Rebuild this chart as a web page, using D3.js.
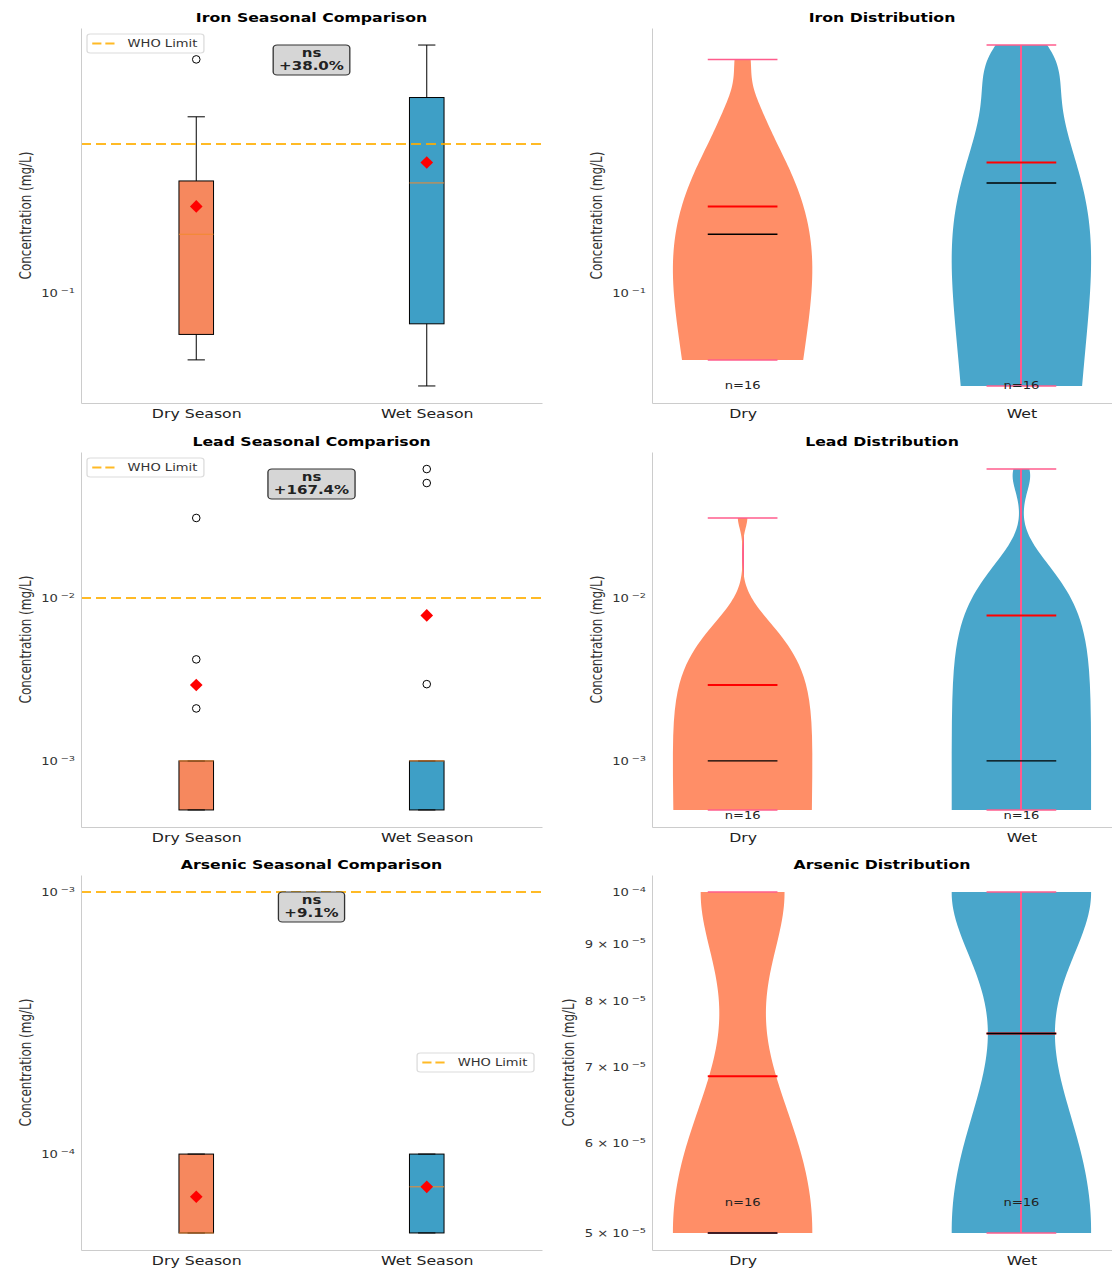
<!DOCTYPE html>
<html>
<head>
<meta charset="utf-8">
<script src="https://cdn.jsdelivr.net/npm/d3@7"></script>
<style>
  html, body { margin: 0; padding: 0; background: #fff; }
  svg { display: block; font-family: "DejaVu Sans", sans-serif; }
</style>
</head>
<body>
<svg id="chart" width="1112" height="1269"></svg>
<script>
// ---- data -------------------------------------------------------------
const metals = ["Iron", "Lead", "Arsenic"];
const seasons = ["Dry", "Wet"];
const boxTickLabels = ["Dry Season", "Wet Season"];
const whoLimits = [0.3, 0.01, 0.001];          // mg/L, drawn as dashed reference lines
const significance = ["ns", "ns", "ns"];
const legendLoc = ["upper left", "upper left", "center right"];

// measured concentrations (mg/L), 16 sampling sites per season
const ironDry = [0.0614, 0.064, 0.068, 0.072, 0.0747, 0.09, 0.115, 0.14,
                 0.169, 0.215, 0.22, 0.222, 0.248, 0.35, 0.366, 0.558];
const ironWet = [0.0507, 0.06, 0.07, 0.078, 0.0807, 0.10, 0.15, 0.21,
                 0.2404, 0.26, 0.319, 0.40, 0.4868, 0.50, 0.56, 0.62];
const leadDry = [0.0005, 0.0005, 0.0005, 0.0005, 0.0005, 0.0005, 0.0005, 0.001,
                 0.001, 0.001, 0.001, 0.001, 0.001, 0.0021, 0.0042, 0.031];
const leadWet = [0.0005, 0.0005, 0.0005, 0.0005, 0.0005, 0.0005, 0.0005, 0.001,
                 0.001, 0.001, 0.001, 0.001, 0.001, 0.00296, 0.0508, 0.0619];
const arsenicDry = [0.00005, 0.00005, 0.00005, 0.00005, 0.00005, 0.00005, 0.00005, 0.00005,
                    0.00005, 0.00005, 0.0001, 0.0001, 0.0001, 0.0001, 0.0001, 0.0001];
const arsenicWet = [0.00005, 0.00005, 0.00005, 0.00005, 0.00005, 0.00005, 0.00005, 0.00005,
                    0.0001, 0.0001, 0.0001, 0.0001, 0.0001, 0.0001, 0.0001, 0.0001];

const samples = [[ironDry, ironWet], [leadDry, leadWet], [arsenicDry, arsenicWet]];

// ---- layout & style ---------------------------------------------------
const SX = 1.31;                       // horizontal text stretch
const rowTops = [28, 452, 875];
const AX_H = 375;
const leftCol = [81, 542];
const rightCol = [652, 1112];
const boxFill = ["#F6885E", "#3E9FC6"];
const violinFill = ["#FF8E67", "#49A6CB"];
const stemColor = "#FF5C8D";
const medianColor = "#F2892E";
const whoColor = "#FFAE00";
const spineColor = "#cccccc";

const svg = d3.select("#chart");
svg.append("rect").attr("width", 1112).attr("height", 1269).attr("fill", "#fff");

// ---- helpers ----------------------------------------------------------
function logDomain(values) {
  const lo = Math.log10(d3.min(values)), hi = Math.log10(d3.max(values));
  const m = 0.05 * (hi - lo);
  return [Math.pow(10, lo - m), Math.pow(10, hi + m)];
}

function logTicks(domain) {
  const a = Math.log10(domain[0]), b = Math.log10(domain[1]);
  const withMinor = (b - a) < 0.4;
  const out = [];
  for (let e = Math.floor(a); e <= Math.ceil(b); e++) {
    for (let k = 1; k <= 9; k++) {
      if (k > 1 && !withMinor) continue;
      const v = k * Math.pow(10, e);
      const lv = Math.log10(v);
      if (lv >= a - 1e-9 && lv <= b + 1e-9) out.push(v);
    }
  }
  return out;
}

function boxStats(arr) {
  const s = arr.slice().sort(d3.ascending);
  const q1 = d3.quantileSorted(s, 0.25);
  const med = d3.quantileSorted(s, 0.5);
  const q3 = d3.quantileSorted(s, 0.75);
  const iqr = q3 - q1;
  const loF = q1 - 1.5 * iqr, hiF = q3 + 1.5 * iqr;
  const inside = s.filter(v => v >= loF && v <= hiF);
  return {
    q1, med, q3,
    lo: d3.min(inside), hi: d3.max(inside),
    outliers: s.filter(v => v < loF || v > hiF),
    mean: d3.mean(s)
  };
}

// Gaussian KDE with Scott's bandwidth, evaluated on 100 points between min and max
function kde(sample) {
  const n = sample.length;
  const h = d3.deviation(sample) * Math.pow(n, -1 / 5);
  const lo = d3.min(sample), hi = d3.max(sample);
  return d3.range(100).map(i => {
    const v = lo + (hi - lo) * i / 99;
    const d = d3.sum(sample, s => Math.exp(-0.5 * Math.pow((v - s) / h, 2)));
    return [v, d];
  });
}

function sText(parent, x, y, str, size, opts = {}) {
  return parent.append("text")
    .attr("transform", `translate(${x},${y}) scale(${SX},1)`)
    .attr("text-anchor", opts.anchor || "middle")
    .attr("font-size", size + "px")
    .attr("font-weight", opts.weight || "normal")
    .attr("fill", opts.fill || "#000")
    .text(str);
}

function sup(e) { return (e < 0 ? "\u2212" : "") + Math.abs(e); }

function drawYAxis(g, y, x0, ticks) {
  const axis = d3.axisLeft(y).tickValues(ticks).tickSize(0).tickSizeOuter(0)
    .tickPadding(6).tickFormat(() => "");
  const gy = g.append("g").attr("transform", `translate(${x0},0)`).call(axis)
    .attr("font-family", null).attr("font-size", null);
  gy.select(".domain").attr("stroke", spineColor);
  gy.selectAll(".tick text").each(function (v) {
    const e = Math.floor(Math.log10(v) + 1e-9);
    const k = Math.round(v / Math.pow(10, e));
    const t = d3.select(this)
      .attr("x", -6 / SX).attr("transform", `scale(${SX},1)`)
      .attr("font-size", "10px").attr("fill", "#333");
    t.append("tspan").text(k === 1 ? "10" : `${k} \u00d7 10`);
    t.append("tspan").attr("dx", "2").attr("dy", "-0.55em").attr("font-size", "7.5px").text(sup(e));
  });
  return gy;
}

function drawXAxis(g, x, bottom, labels) {
  const axis = d3.axisBottom(x).tickValues([1, 2]).tickSize(0).tickSizeOuter(0)
    .tickPadding(6).tickFormat(d => labels[d - 1]);
  const gx = g.append("g").attr("transform", `translate(0,${bottom})`).call(axis)
    .attr("font-family", null).attr("font-size", null);
  gx.select(".domain").attr("stroke", spineColor);
  gx.selectAll(".tick text").attr("transform", `scale(${SX},1)`)
    .attr("font-size", "12px").attr("fill", "#222");
}

function drawYLabel(g, gy, top, bottom) {
  const minX = d3.min(gy.selectAll(".tick text").nodes(), n => n.getBoundingClientRect().left);
  const cx = minX - 16, cy = (top + bottom) / 2;
  g.append("text")
    .attr("transform", `translate(${cx},${cy}) scale(${SX},1) rotate(-90)`)
    .attr("text-anchor", "middle").attr("dy", "0.35em")
    .attr("font-size", "12px").attr("fill", "#333")
    .text("Concentration (mg/L)");
}

function drawTitle(g, xr, top, str) {
  sText(g, (xr[0] + xr[1]) / 2, top - 6.5, str, 12, { weight: "bold" });
}

// ---- panels -----------------------------------------------------------
metals.forEach((metal, r) => {
  const top = rowTops[r], bottom = top + AX_H;
  const groups = samples[r];
  const all = groups[0].concat(groups[1]);
  const who = whoLimits[r];
  const stats = groups.map(boxStats);

  // ===== seasonal box plot =====
  {
    const g = svg.append("g");
    const x = d3.scaleLinear().domain([0.5, 2.5]).range(leftCol);
    const y = d3.scaleLog().domain(logDomain(all.concat([who]))).range([bottom, top]);
    const bw = 0.15;

    stats.forEach((s, i) => {
      const p = i + 1;
      g.append("rect")
        .attr("x", x(p - bw / 2)).attr("width", x(p + bw / 2) - x(p - bw / 2))
        .attr("y", y(s.q3)).attr("height", y(s.q1) - y(s.q3))
        .attr("fill", boxFill[i]).attr("stroke", "#000").attr("stroke-width", 1);
    });
    stats.forEach((s, i) => {
      const p = i + 1;
      [[s.q1, s.lo], [s.q3, s.hi]].forEach(([a, b]) => {
        g.append("line").attr("x1", x(p)).attr("x2", x(p)).attr("y1", y(a)).attr("y2", y(b))
          .attr("stroke", "#000").attr("stroke-width", 1);
        g.append("line").attr("x1", x(p - bw / 4)).attr("x2", x(p + bw / 4)).attr("y1", y(b)).attr("y2", y(b))
          .attr("stroke", "#000").attr("stroke-width", 1);
      });
      g.append("line").attr("x1", x(p - bw / 2)).attr("x2", x(p + bw / 2)).attr("y1", y(s.med)).attr("y2", y(s.med))
        .attr("stroke", medianColor).attr("stroke-width", 1);
      g.selectAll(null).data(s.outliers).join("circle")
        .attr("cx", x(p)).attr("cy", d => y(d)).attr("r", 3.8)
        .attr("fill", "none").attr("stroke", "#000").attr("stroke-width", 1);
      g.append("path").attr("d", d3.symbol(d3.symbolSquare, 80)())
        .attr("transform", `translate(${x(p)},${y(s.mean)}) rotate(45)`)
        .attr("fill", "#FF0000");
    });

    // WHO reference line
    g.append("line").attr("x1", leftCol[0]).attr("x2", leftCol[1]).attr("y1", y(who)).attr("y2", y(who))
      .attr("stroke", whoColor).attr("stroke-width", 2).attr("stroke-dasharray", "10,5").attr("opacity", 0.85);

    const gy = drawYAxis(g, y, leftCol[0], logTicks(y.domain()));
    drawXAxis(g, x, bottom, boxTickLabels);
    drawYLabel(g, gy, top, bottom);
    drawTitle(g, leftCol, top, `${metal} Seasonal Comparison`);

    // legend
    const lg = g.append("g");
    const frame = lg.append("rect").attr("y", 0).attr("height", 19).attr("rx", 2.5)
      .attr("fill", "#fff").attr("fill-opacity", 0.85).attr("stroke", "#dcdcdc").attr("stroke-width", 1);
    lg.append("line").attr("x1", 4).attr("x2", 24).attr("y1", 9.5).attr("y2", 9.5)
      .attr("stroke", whoColor).attr("stroke-width", 2).attr("stroke-dasharray", "7,3").attr("opacity", 0.85);
    const lt = lg.append("text").attr("x", 31).attr("y", 13).attr("font-size", "10px").attr("fill", "#333").text("WHO Limit");
    const fw = 31 + lt.node().getComputedTextLength() + 5;
    frame.attr("width", fw);
    let lx, ly;
    if (legendLoc[r] === "upper left") { lx = leftCol[0] + 6; ly = top + 6; }
    else { lx = leftCol[1] - 8 - fw * SX; ly = (top + bottom) / 2 - 9.5; }
    lg.attr("transform", `translate(${lx},${ly}) scale(${SX},1)`);

    // change annotation
    const pct = (stats[1].mean / stats[0].mean - 1) * 100;
    const ag = g.append("g").attr("transform", `translate(${(leftCol[0] + leftCol[1]) / 2},${top + 17}) scale(${SX},1)`);
    const abox = ag.append("rect").attr("y", 0).attr("height", 30).attr("rx", 3)
      .attr("fill", "#d6d6d6").attr("stroke", "#333").attr("stroke-width", 1);
    ag.append("text").attr("y", 12).attr("text-anchor", "middle").attr("font-size", "11.5px")
      .attr("font-weight", "bold").attr("fill", "#222").text(significance[r]);
    const t2 = ag.append("text").attr("y", 25.5).attr("text-anchor", "middle").attr("font-size", "11.5px")
      .attr("font-weight", "bold").attr("fill", "#222").text(d3.format("+.1f")(pct) + "%");
    const aw = t2.node().getComputedTextLength() + 9;
    abox.attr("x", -aw / 2).attr("width", aw);
  }

  // ===== distribution violins =====
  {
    const g = svg.append("g");
    const x = d3.scaleLinear().domain([0.675, 2.325]).range(rightCol);
    const y = d3.scaleLog().domain(logDomain(all)).range([bottom, top]);

    groups.forEach((sample, i) => {
      const p = i + 1;
      const lo = d3.min(sample), hi = d3.max(sample);
      const sx = Math.round(x(p));   // pixel-aligned so the thin stem keeps its colour
      const stem = () => g.append("line").attr("x1", sx).attr("x2", sx).attr("y1", y(lo)).attr("y2", y(hi))
        .attr("stroke", stemColor).attr("stroke-width", 2);
      // the dry body is opaque over its stem; the wet stem stays visible on top
      if (i === 0) stem();
      const dens = kde(sample);
      const maxD = d3.max(dens, d => d[1]);
      const area = d3.area()
        .y(d => y(d[0]))
        .x0(d => x(p - 0.25 * d[1] / maxD))
        .x1(d => x(p + 0.25 * d[1] / maxD));
      g.append("path").datum(dens).attr("d", area).attr("fill", violinFill[i]);
      if (i === 1) stem();
    });

    groups.forEach((sample, i) => {
      const p = i + 1, s = stats[i];
      const hbar = (v, color, w) => g.append("line")
        .attr("x1", x(p - 0.125)).attr("x2", x(p + 0.125)).attr("y1", y(v)).attr("y2", y(v))
        .attr("stroke", color).attr("stroke-width", w);
      hbar(s.mean, "#FF0000", 2);
      hbar(d3.min(sample), stemColor, 1.5);
      hbar(d3.max(sample), stemColor, 1.5);
      hbar(s.med, "#000", 1.4);
      sText(g, x(p), y(y.domain()[0] * 1.09) - 2, `n=${sample.length}`, 10, { fill: "#222" });
    });

    const gy = drawYAxis(g, y, rightCol[0], logTicks(y.domain()));
    drawXAxis(g, x, bottom, seasons);
    drawYLabel(g, gy, top, bottom);
    drawTitle(g, rightCol, top, `${metal} Distribution`);
  }
});
</script>
</body>
</html>
